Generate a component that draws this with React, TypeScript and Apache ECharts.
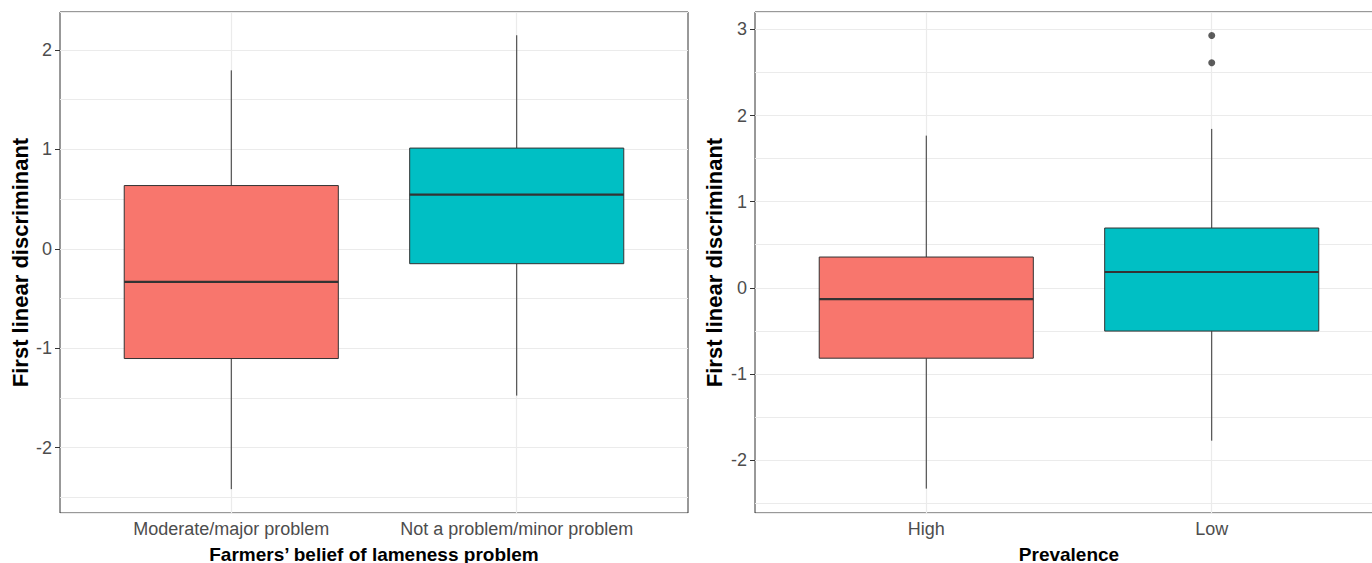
import React, { useEffect, useRef } from "react";
import * as echarts from "echarts";

// Left panel: farmers' belief
const beliefCategories = ["Moderate/major problem", "Not a problem/minor problem"];
// [lower whisker, q1, median, q3, upper whisker]
const beliefBoxes = [
  [-2.418, -1.104, -0.332, 0.636, 1.795],
  [-1.477, -0.15, 0.545, 1.013, 2.148],
];
const beliefOutliers: number[][] = [];
const beliefYTicks = [-2, -1, 0, 1, 2];

// Right panel: prevalence
const prevalenceCategories = ["High", "Low"];
const prevalenceBoxes = [
  [-2.333, -0.818, -0.131, 0.357, 1.767],
  [-1.776, -0.503, 0.183, 0.694, 1.845],
];
const prevalenceOutliers = [
  [2, 2.93],
  [2, 2.613],
];
const prevalenceYTicks = [-2, -1, 0, 1, 2, 3];

const boxColors = ["#F8766D", "#00BFC4"];
const FONT = "Liberation Sans, Arial, sans-serif";

function renderBox(params: any, api: any) {
  const x = api.value(0);
  const lo = api.coord([x, api.value(1)]);
  const q1 = api.coord([x, api.value(2)]);
  const med = api.coord([x, api.value(3)]);
  const q3 = api.coord([x, api.value(4)]);
  const hi = api.coord([x, api.value(5)]);
  const halfW = api.size([0.75, 0])[0] / 2;
  const cx = lo[0];
  const color = boxColors[params.dataIndex % boxColors.length];
  return {
    type: "group",
    children: [
      {
        type: "line",
        shape: { x1: cx, y1: hi[1], x2: cx, y2: q3[1] },
        style: { stroke: "#333333", lineWidth: 1 },
      },
      {
        type: "line",
        shape: { x1: cx, y1: q1[1], x2: cx, y2: lo[1] },
        style: { stroke: "#333333", lineWidth: 1 },
      },
      {
        type: "rect",
        shape: { x: cx - halfW, y: q3[1], width: halfW * 2, height: q1[1] - q3[1] },
        style: { fill: color, stroke: "#333333", lineWidth: 1 },
      },
      {
        type: "line",
        shape: { x1: cx - halfW, y1: med[1], x2: cx + halfW, y2: med[1] },
        style: { stroke: "#333333", lineWidth: 2.2 },
      },
    ],
  };
}

function makeXAxis(gridIndex: number, cats: string[], name: string) {
  return {
    type: "value",
    gridIndex,
    min: 0.4,
    max: 2.6,
    name,
    nameLocation: "middle",
    nameGap: 32,
    nameTextStyle: {
      fontFamily: FONT,
      fontSize: 19,
      lineHeight: 18,
      fontWeight: "bold",
      color: "#000",
    },
    axisLine: { show: false },
    axisTick: {
      show: true,
      customValues: [1, 2],
      length: 5,
      lineStyle: { color: "#333333", width: 1 },
    },
    axisLabel: {
      customValues: [1, 2],
      formatter: (v: number) => cats[Math.round(v) - 1] ?? "",
      fontFamily: FONT,
      fontSize: 18,
      color: "#4D4D4D",
      margin: 7,
    },
    splitLine: { show: true, lineStyle: { color: "#EBEBEB", width: 1.2 } },
  };
}

function makeYAxes(gridIndex: number, min: number, max: number, ticks: number[], nameGap: number) {
  return [
    {
      type: "value",
      gridIndex,
      min,
      max,
      name: "First linear discriminant",
      nameLocation: "middle",
      nameGap,
      nameTextStyle: { fontFamily: FONT, fontSize: 22, fontWeight: "bold", color: "#000" },
      axisLine: { show: false },
      axisTick: {
        show: true,
        customValues: ticks,
        length: 5,
        lineStyle: { color: "#333333", width: 1 },
      },
      axisLabel: {
        customValues: ticks,
        fontFamily: FONT,
        fontSize: 18,
        color: "#4D4D4D",
        margin: 8,
      },
      splitLine: { show: false },
    },
    {
      type: "value",
      gridIndex,
      min,
      max,
      splitNumber: 10,
      axisLine: { show: false },
      axisTick: { show: false },
      axisLabel: { show: false },
      splitLine: { show: true, lineStyle: { color: "#EBEBEB", width: 1.2 } },
    },
  ];
}

export default function App() {
  const ref = useRef<HTMLDivElement>(null);
  useEffect(() => {
    if (!ref.current) return;
    const chart = echarts.init(ref.current, undefined, { renderer: "svg" });
    const gridBase = {
      show: true,
      borderColor: "#333333",
      borderWidth: 1,
      backgroundColor: "transparent",
      top: 12,
      height: 501,
      width: 628,
      containLabel: false,
      outerBoundsMode: "none",
    };
    chart.setOption({
      animation: false,
      backgroundColor: "#ffffff",
      grid: [
        { ...gridBase, left: 60 },
        { ...gridBase, left: 755 },
      ],
      xAxis: [
        makeXAxis(0, beliefCategories, "Farmers\u2019 belief of lameness problem"),
        makeXAxis(1, prevalenceCategories, "Prevalence"),
      ],
      yAxis: [
        ...makeYAxes(0, -2.658, 2.382, beliefYTicks, 29),
        ...makeYAxes(1, -2.616, 3.203, prevalenceYTicks, 30),
      ],
      series: [
        {
          type: "custom",
          xAxisIndex: 0,
          yAxisIndex: 0,
          renderItem: renderBox,
          encode: { x: 0, y: [1, 2, 3, 4, 5] },
          data: beliefBoxes.map((b, i) => [i + 1, ...b]),
          z: 5,
        },
        {
          type: "scatter",
          xAxisIndex: 0,
          yAxisIndex: 0,
          data: beliefOutliers,
          symbolSize: 7,
          itemStyle: { color: "#333333" },
          z: 6,
        },
        {
          type: "custom",
          xAxisIndex: 1,
          yAxisIndex: 2,
          renderItem: renderBox,
          encode: { x: 0, y: [1, 2, 3, 4, 5] },
          data: prevalenceBoxes.map((b, i) => [i + 1, ...b]),
          z: 5,
        },
        {
          type: "scatter",
          xAxisIndex: 1,
          yAxisIndex: 2,
          data: prevalenceOutliers,
          symbolSize: 7,
          itemStyle: { color: "#333333" },
          z: 6,
        },
      ],
    });
    return () => chart.dispose();
  }, []);
  return (
    <div
      ref={ref}
      style={{ position: "absolute", left: 0, top: 0, width: 1372, height: 563 }}
    />
  );
}
